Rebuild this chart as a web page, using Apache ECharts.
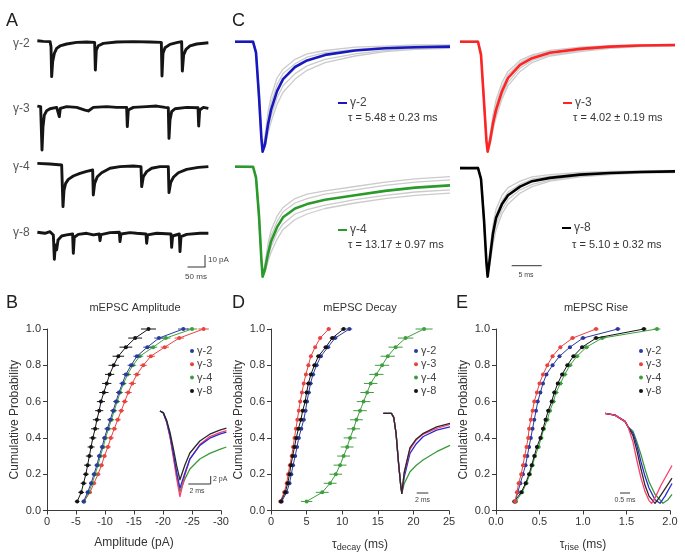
<!DOCTYPE html>
<html><head><meta charset="utf-8">
<script src="https://cdn.jsdelivr.net/npm/echarts@6/dist/echarts.min.js"></script>
<style>html,body{margin:0;padding:0;background:#fff}#c{width:685px;height:556px}</style>
</head><body><div id="c"></div>
<script>
const FONT = '"Liberation Sans", Arial, sans-serif';
const groups = ['γ-2', 'γ-3', 'γ-4', 'γ-8'];
const colC = {'γ-2': '#1818c0', 'γ-3': '#ff2424', 'γ-4': '#2a9a2a', 'γ-8': '#000000'};
const colP = {'γ-2': '#2a3a9c', 'γ-3': '#e8433f', 'γ-4': '#3e9e3e', 'γ-8': '#141414'};
const tauText = {'γ-2': 'τ = 5.48 ± 0.23 ms', 'γ-3': 'τ = 4.02 ± 0.19 ms', 'γ-4': 'τ = 13.17 ± 0.97 ms', 'γ-8': 'τ = 5.10 ± 0.32 ms'};

// ---------- Panel A : example traces [ms, pA] ----------
const traceA_g2 = [[1,1.7],[18,1.1],[38,0.9],[40.6,-3.4],[42.5,-29],[45.4,-16.2],[50.3,-9.1],[57,-4.8],[66.7,-2.8],[86,-1.1],[115,0.3],[144,0.6],[167.2,0.3],[169.2,-23.4],[172,-6.3],[177.9,-2.6],[192.4,-0.6],[231,0.6],[279.4,0.9],[327.7,0.6],[360.6,0.3],[362.5,-28.5],[365.4,-9.1],[371.2,-4.3],[385.7,-1.4],[405,0],[419.5,0.9],[421.5,-24.2],[425.3,-10.5],[432.1,-5.7],[443.7,-2.8],[463,-1.1],[497,0]];
const traceA_g3 = [[1,1.4],[10.6,0.9],[12.5,0],[14.5,-36.2],[17.4,-16.2],[21.3,-6.3],[28,-2.6],[37.7,-0.9],[57,0.3],[62.8,0],[64.7,-7.7],[67.6,-0.6],[86,0.9],[115,0.3],[139.2,-2],[148.8,-2.8],[163.3,0.3],[202,0.9],[231,0.3],[260,0.3],[261.9,-16.2],[264.8,-2],[279.4,0.3],[318,0.9],[347,1.4],[371.2,0.3],[380.8,0],[382.8,-26.2],[385.7,-10.5],[390.5,-3.4],[400.2,-0.9],[434,0.3],[467,0],[468.9,-15.7],[471.8,-2],[482.5,0.3],[497,-0.6]];
const traceA_g4 = [[1,1.4],[37.7,0.9],[71.5,0],[73.4,-1.4],[75.4,-35.6],[78.3,-21.4],[83.1,-15.7],[90.8,-12.3],[105.3,-9.4],[124.6,-7.1],[144,-5.4],[161.4,-4.3],[163.3,-25.6],[167.2,-15.7],[174.9,-10],[187.5,-6.6],[211.7,-2.8],[240.7,-1.4],[279.4,-0.9],[301.6,-1.4],[303.6,-18.5],[308.4,-10],[318,-5.7],[332.5,-2.8],[356.7,-1.4],[380.8,-1.4],[382.8,-23.6],[387.6,-15.1],[395.4,-10.5],[409.9,-6.6],[434,-3.7],[467.9,-2],[497,-1.4]];
const traceA_g8 = [[1,0.9],[23,0],[37.7,1.4],[47.4,-1.4],[50.3,-22.2],[53.2,-10],[57,-14.2],[61,-5.7],[71.5,-2.3],[86,-1.4],[103.3,-0.6],[105.3,-17.1],[108.2,-3.4],[119.8,-0.9],[144,0],[163.3,-1.4],[180.7,-0.6],[182.7,-6.3],[185.6,-1.1],[211.7,0.6],[238.7,0.9],[240.7,-7.1],[243.6,-0.6],[269.7,0.6],[289,0],[316.1,-0.6],[318,-8.5],[320.9,-1.4],[347,0],[388.6,-0.6],[390.5,-12],[393.4,-2.3],[412.7,-0.6],[414.7,-15.7],[417.6,-2.8],[434,-0.9],[472.7,0],[497,0]];

// ---------- Panel C : averaged normalised mEPSCs ----------
const tC = [0,3,3.5,4,4.4,4.6,5,5.5,6,7,8,10,12,15,20,25,30,35.8];
const meanC_g2 = [0,0,-0.1,-0.5,-0.88,-1.0,-0.93,-0.75,-0.62,-0.45,-0.34,-0.23,-0.17,-0.12,-0.08,-0.06,-0.05,-0.045];
const meanC_g3 = [0,0,-0.12,-0.55,-0.9,-1.0,-0.9,-0.74,-0.62,-0.45,-0.33,-0.21,-0.15,-0.1,-0.065,-0.045,-0.035,-0.03];
const meanC_g4 = [0,0,-0.1,-0.45,-0.85,-1.0,-0.93,-0.79,-0.68,-0.55,-0.46,-0.38,-0.34,-0.3,-0.26,-0.22,-0.19,-0.17];
const meanC_g8 = [0,0,-0.1,-0.48,-0.87,-1.0,-0.82,-0.6,-0.46,-0.33,-0.25,-0.17,-0.12,-0.09,-0.06,-0.045,-0.035,-0.03];
const greyC_g2 = [
 [0,0.01,-0.12,-0.58,-0.93,-0.98,-0.85,-0.64,-0.5,-0.33,-0.25,-0.16,-0.11,-0.08,-0.05,-0.04,-0.03,-0.03],
 [0,-0.01,-0.08,-0.44,-0.84,-0.99,-0.96,-0.83,-0.73,-0.57,-0.46,-0.34,-0.26,-0.19,-0.13,-0.09,-0.07,-0.06],
 [0.01,0,-0.11,-0.52,-0.9,-1.0,-0.9,-0.7,-0.56,-0.39,-0.29,-0.2,-0.14,-0.1,-0.07,-0.05,-0.04,-0.035],
 [0,0.01,-0.09,-0.47,-0.86,-1.0,-0.95,-0.79,-0.68,-0.51,-0.4,-0.29,-0.22,-0.16,-0.11,-0.08,-0.06,-0.05]];
const greyC_g3 = [
 [0,0,-0.14,-0.6,-0.93,-0.98,-0.85,-0.66,-0.53,-0.37,-0.27,-0.17,-0.12,-0.08,-0.05,-0.035,-0.03,-0.025],
 [0,0.01,-0.1,-0.5,-0.86,-1.0,-0.94,-0.8,-0.69,-0.52,-0.4,-0.27,-0.19,-0.13,-0.09,-0.06,-0.045,-0.04],
 [0.01,0,-0.12,-0.56,-0.9,-0.99,-0.88,-0.7,-0.57,-0.41,-0.3,-0.19,-0.13,-0.09,-0.06,-0.04,-0.03,-0.03],
 [0,0,-0.11,-0.53,-0.88,-1.0,-0.92,-0.77,-0.66,-0.49,-0.37,-0.24,-0.17,-0.12,-0.08,-0.055,-0.04,-0.035]];
const greyC_g4 = [
 [0,0,-0.12,-0.5,-0.88,-0.99,-0.88,-0.7,-0.58,-0.45,-0.37,-0.29,-0.25,-0.22,-0.18,-0.14,-0.11,-0.09],
 [0,-0.01,-0.08,-0.4,-0.82,-1.0,-0.96,-0.86,-0.78,-0.66,-0.57,-0.48,-0.43,-0.38,-0.33,-0.29,-0.26,-0.24],
 [0.01,0,-0.11,-0.47,-0.86,-1.0,-0.9,-0.74,-0.63,-0.5,-0.41,-0.33,-0.29,-0.25,-0.21,-0.17,-0.14,-0.12],
 [0,0,-0.09,-0.43,-0.84,-1.0,-0.95,-0.83,-0.73,-0.6,-0.52,-0.43,-0.39,-0.35,-0.3,-0.26,-0.23,-0.21]];
const greyC_g8 = [
 [0,0,-0.12,-0.55,-0.9,-0.97,-0.75,-0.52,-0.38,-0.25,-0.18,-0.12,-0.08,-0.06,-0.04,-0.03,-0.025,-0.02],
 [0,0.01,-0.08,-0.42,-0.84,-1.0,-0.88,-0.7,-0.57,-0.42,-0.33,-0.23,-0.17,-0.12,-0.08,-0.06,-0.045,-0.04],
 [0.01,0,-0.11,-0.5,-0.88,-0.99,-0.8,-0.57,-0.43,-0.3,-0.22,-0.15,-0.1,-0.075,-0.05,-0.04,-0.03,-0.025],
 [0,0,-0.09,-0.45,-0.86,-1.0,-0.85,-0.65,-0.52,-0.38,-0.29,-0.2,-0.15,-0.11,-0.07,-0.05,-0.04,-0.035]];

// ---------- Cumulative probability panels ----------
const cumProb = [0.05,0.10,0.15,0.20,0.25,0.30,0.35,0.40,0.45,0.50,0.55,0.60,0.65,0.70,0.75,0.80,0.85,0.90,0.95,1.00];
// B: amplitude (pA)
const ampB_g2 = [-6.3,-7.0,-7.6,-8.1,-8.6,-9.0,-9.5,-9.9,-10.4,-10.9,-11.4,-11.9,-12.4,-13.0,-13.6,-14.5,-15.5,-17.3,-19.3,-23.5];
const ampB_g3 = [-6.4,-7.4,-8.1,-8.8,-9.4,-9.9,-10.5,-11.0,-11.6,-12.2,-12.8,-13.4,-14.0,-14.7,-15.5,-16.6,-17.9,-20.3,-22.8,-27.0];
const ampB_g4 = [-6.4,-7.2,-7.8,-8.3,-8.8,-9.2,-9.7,-10.1,-10.6,-11.1,-11.6,-12.1,-12.6,-13.2,-13.9,-14.8,-16.0,-18.3,-20.5,-25.0];
const ampB_g8 = [-5.2,-5.9,-6.3,-6.7,-7.0,-7.3,-7.6,-7.9,-8.3,-8.6,-9.0,-9.3,-9.8,-10.3,-10.8,-11.5,-12.3,-13.6,-15.2,-17.5];
const errB_g2 = [0.3,0.3,0.3,0.4,0.4,0.4,0.4,0.4,0.5,0.5,0.5,0.5,0.5,0.5,0.6,0.6,0.6,0.7,0.8,0.9];
const errB_g3 = [0.3,0.3,0.4,0.4,0.4,0.4,0.5,0.5,0.5,0.5,0.5,0.5,0.6,0.6,0.6,0.6,0.7,0.7,0.8,0.9];
const errB_g4 = [0.3,0.3,0.3,0.4,0.4,0.4,0.4,0.4,0.5,0.5,0.5,0.5,0.5,0.5,0.6,0.6,0.6,0.7,0.8,0.9];
const errB_g8 = [0.4,0.5,0.5,0.5,0.6,0.6,0.6,0.6,0.7,0.7,0.7,0.7,0.8,0.8,0.8,0.9,1.0,1.1,1.2,1.3];
// D: decay tau (ms)
const decD_g2 = [1.5,2.2,2.6,2.85,3.1,3.4,3.65,3.9,4.25,4.6,4.85,5.05,5.3,5.55,5.9,6.4,7.0,8.0,9.0,11.0];
const decD_g3 = [1.3,1.85,2.2,2.4,2.65,2.9,3.1,3.3,3.5,3.7,3.9,4.1,4.35,4.6,4.9,5.25,5.6,6.2,6.9,8.1];
const decD_g4 = [5.0,7.2,8.3,9.1,9.7,10.2,10.7,11.1,11.6,12.0,12.5,13.0,13.5,14.0,14.8,15.6,16.4,17.5,18.9,21.5];
const decD_g8 = [1.4,2.0,2.35,2.6,2.8,3.05,3.3,3.55,3.85,4.2,4.45,4.8,5.0,5.25,5.6,6.1,6.65,7.7,8.6,10.2];
const errD_g2 = [0.2,0.2,0.2,0.2,0.2,0.25,0.25,0.25,0.25,0.25,0.25,0.25,0.3,0.3,0.3,0.3,0.3,0.35,0.35,0.4];
const errD_g3 = [0.15,0.15,0.15,0.15,0.15,0.2,0.2,0.2,0.2,0.2,0.2,0.2,0.2,0.2,0.25,0.25,0.25,0.25,0.3,0.3];
const errD_g4 = [0.8,0.9,0.9,0.9,0.9,0.9,0.9,0.9,0.9,0.9,0.95,0.95,0.95,0.95,1.0,1.0,1.0,1.0,1.1,1.2];
const errD_g8 = [0.2,0.2,0.2,0.2,0.2,0.25,0.25,0.25,0.25,0.25,0.25,0.25,0.3,0.3,0.3,0.3,0.3,0.35,0.35,0.4];
// E: rise time (ms)
const riseE_g2 = [0.22,0.25,0.28,0.31,0.34,0.36,0.38,0.40,0.42,0.44,0.46,0.48,0.51,0.54,0.58,0.65,0.73,0.85,1.0,1.40];
const riseE_g3 = [0.22,0.24,0.26,0.29,0.31,0.33,0.35,0.37,0.38,0.40,0.42,0.44,0.47,0.50,0.54,0.59,0.65,0.74,0.88,1.15];
const riseE_g4 = [0.23,0.30,0.35,0.39,0.42,0.45,0.49,0.52,0.55,0.59,0.62,0.66,0.69,0.74,0.79,0.85,0.93,1.04,1.22,1.85];
const riseE_g8 = [0.21,0.29,0.34,0.38,0.41,0.44,0.47,0.51,0.54,0.57,0.60,0.64,0.67,0.71,0.76,0.82,0.89,0.99,1.15,1.70];
const errE_g2 = [0.01,0.01,0.01,0.01,0.01,0.01,0.01,0.01,0.01,0.01,0.01,0.015,0.015,0.015,0.015,0.02,0.02,0.02,0.03,0.03];
const errE_g3 = [0.01,0.01,0.01,0.01,0.01,0.01,0.01,0.01,0.01,0.01,0.01,0.015,0.015,0.015,0.015,0.02,0.02,0.02,0.03,0.03];
const errE_g4 = [0.02,0.02,0.02,0.02,0.02,0.02,0.02,0.025,0.025,0.025,0.025,0.025,0.03,0.03,0.03,0.03,0.03,0.03,0.04,0.04];
const errE_g8 = [0.01,0.015,0.015,0.015,0.015,0.015,0.015,0.015,0.02,0.02,0.02,0.02,0.02,0.02,0.02,0.02,0.025,0.025,0.03,0.03];

// ---------- Insets ----------
const insetB_g2 = [[0,0],[0.4,-0.5],[0.8,-2.6],[1.2,-6.0],[1.6,-10.5],[2.0,-15.3],[2.4,-19.3],[3.0,-15.5],[3.6,-12.0],[4.8,-8.6],[6.0,-6.8],[7.2,-5.8],[8.0,-5.3]];
const insetB_g3 = [[0,0],[0.4,-0.5],[0.8,-2.8],[1.2,-6.5],[1.6,-11.5],[2.0,-16.8],[2.4,-21.4],[3.0,-16.0],[3.6,-12.0],[4.8,-8.4],[6.0,-6.4],[7.2,-5.4],[8.0,-4.9]];
const insetB_g4 = [[0,0],[0.4,-0.5],[0.8,-2.7],[1.2,-6.2],[1.6,-11.0],[2.0,-16.0],[2.4,-20.2],[3.0,-17.0],[3.6,-14.5],[4.8,-12.0],[6.0,-10.6],[7.2,-9.6],[8.0,-9.0]];
const insetB_g8 = [[0,0],[0.4,-0.4],[0.8,-2.3],[1.2,-5.3],[1.6,-9.3],[2.0,-13.6],[2.4,-17.2],[3.0,-13.5],[3.6,-10.5],[4.8,-7.5],[6.0,-5.8],[7.2,-4.8],[8.0,-4.3]];
const insetD_g2 = [[0,0],[1.4,0],[1.8,-0.05],[2.2,-0.25],[2.6,-0.6],[3.0,-0.9],[3.2,-1.0],[3.6,-0.8],[4.6,-0.5],[5.7,-0.38],[6.9,-0.29],[9.2,-0.21],[11.5,-0.17]];
const insetD_g3 = [[0,0],[1.4,0],[1.8,-0.05],[2.2,-0.25],[2.6,-0.6],[3.0,-0.9],[3.2,-1.0],[3.6,-0.75],[4.6,-0.45],[5.7,-0.33],[6.9,-0.26],[9.2,-0.19],[11.5,-0.14]];
const insetD_g4 = [[0,0],[1.4,0],[1.8,-0.05],[2.2,-0.25],[2.6,-0.6],[3.0,-0.9],[3.2,-1.0],[3.6,-0.88],[4.6,-0.73],[5.7,-0.65],[6.9,-0.58],[9.2,-0.48],[11.5,-0.40]];
const insetD_g8 = [[0,0],[1.4,0],[1.8,-0.05],[2.2,-0.25],[2.6,-0.6],[3.0,-0.9],[3.2,-1.0],[3.6,-0.74],[4.6,-0.43],[5.7,-0.32],[6.9,-0.25],[9.2,-0.17],[11.5,-0.125]];
const insetE_g2 = [[0,0],[0.5,-0.02],[1.0,-0.09],[1.15,-0.15],[1.4,-0.22],[1.6,-0.36],[1.8,-0.54],[2.0,-0.7],[2.2,-0.83],[2.5,-0.96],[2.75,-1.0],[3.0,-0.92],[3.35,-0.78]];
const insetE_g3 = [[0,0],[0.5,-0.02],[1.0,-0.09],[1.15,-0.15],[1.4,-0.32],[1.6,-0.53],[1.8,-0.72],[2.0,-0.87],[2.2,-0.97],[2.33,-1.0],[2.5,-0.94],[2.8,-0.8],[3.35,-0.58]];
const insetE_g4 = [[0,0],[0.5,-0.02],[1.0,-0.09],[1.15,-0.15],[1.4,-0.2],[1.6,-0.32],[1.8,-0.46],[2.0,-0.62],[2.2,-0.76],[2.5,-0.9],[2.9,-1.0],[3.15,-0.96],[3.35,-0.9]];
const insetE_g8 = [[0,0],[0.5,-0.02],[1.0,-0.09],[1.15,-0.15],[1.4,-0.25],[1.6,-0.42],[1.8,-0.62],[2.0,-0.8],[2.2,-0.92],[2.5,-1.0],[2.7,-0.94],[3.0,-0.84],[3.35,-0.72]];

// ---------- build chart ----------
const grids = [], xAxes = [], yAxes = [], series = [];
function hiddenGrid(left, top, width, height, xr, yr) {
  const i = grids.length;
  grids.push({left, top, width, height});
  xAxes.push({gridIndex: i, type: 'value', min: xr[0], max: xr[1], show: false});
  yAxes.push({gridIndex: i, type: 'value', min: yr[0], max: yr[1], show: false});
  return i;
}
function lineS(gi, data, color, width, z) {
  series.push({type: 'line', xAxisIndex: gi, yAxisIndex: gi, data, showSymbol: false, symbol: 'none',
    lineStyle: {color, width, join: 'round'}, z: z || 2, silent: true, clip: false, animation: false});
}
// Panel A
const traceA = [traceA_g2, traceA_g3, traceA_g4, traceA_g8];
const baseA = [42.7, 107.7, 165, 233.3];
traceA.forEach((tr, k) => {
  const gi = hiddenGrid(37, baseA[k] - 8 * 1.17, 172.4, 48 * 1.17, [0, 500], [-40, 8]);
  lineS(gi, tr, '#151515', 2.9);
});
// Panel C
const meanC = [meanC_g2, meanC_g3, meanC_g4, meanC_g8];
const greyC = [greyC_g2, greyC_g3, greyC_g4, greyC_g8];
const cPos = [[235, 30.7, 126.5], [460, 30.7, 126.5], [235, 155.7, 126.5], [460, 157.3, 124.7]];
groups.forEach((g, k) => {
  const gi = hiddenGrid(cPos[k][0], cPos[k][1], 215, cPos[k][2], [0, 35.8], [-1.05, 0.1]);
  greyC[k].forEach(arr => lineS(gi, tC.map((t, i) => [t, arr[i]]), '#cbcbcb', 1.3, 1));
  lineS(gi, tC.map((t, i) => [t, meanC[k][i]]), colC[g], 2.6, 3);
});
// cumulative panels
const axisBase = {
  axisLine: {show: true, onZero: false, lineStyle: {color: '#3a3a3a', width: 1}},
  axisTick: {show: true, length: 4, lineStyle: {color: '#3a3a3a'}},
  splitLine: {show: false},
  axisLabel: {color: '#333', fontSize: 11, fontFamily: FONT},
  nameTextStyle: {color: '#333', fontSize: 12, fontFamily: FONT}
};
function cumGrid(left, top, width, height, xcfg) {
  const i = grids.length;
  grids.push({left, top, width, height});
  xAxes.push(Object.assign({gridIndex: i, type: 'value', nameLocation: 'middle', nameGap: 26}, axisBase, xcfg,
    {axisLabel: Object.assign({}, axisBase.axisLabel, {margin: 6}, xcfg.axisLabel || {})}));
  yAxes.push(Object.assign({gridIndex: i, type: 'value', min: 0, max: 1, interval: 0.2, name: 'Cumulative Probability',
    nameLocation: 'middle', nameRotate: 90, nameGap: 26}, axisBase,
    {axisLabel: Object.assign({}, axisBase.axisLabel, {margin: 6, formatter: v => v.toFixed(1)})}));
  return i;
}
function cumSeries(gi, xs, errs, color, z) {
  series.push({type: 'custom', xAxisIndex: gi, yAxisIndex: gi, silent: true, z: z, animation: false,
    data: xs.map((x, i) => [x, cumProb[i], errs[i]]), encode: {x: 0, y: 1},
    renderItem(params, api) {
      const x = api.value(0), y = api.value(1), e = api.value(2);
      const a = api.coord([x - e, y]), b = api.coord([x + e, y]);
      return {type: 'line', shape: {x1: a[0], y1: a[1], x2: b[0], y2: b[1]}, style: {stroke: color, lineWidth: 1}};
    }});
  series.push({type: 'line', xAxisIndex: gi, yAxisIndex: gi, silent: true, z: z, animation: false,
    data: xs.map((x, i) => [x, cumProb[i]]), symbol: 'circle', symbolSize: 4, showSymbol: true,
    itemStyle: {color}, lineStyle: {color, width: 1}});
}
const gB = cumGrid(47, 329, 174, 181.5, {min: -30, max: 0, interval: 5, inverse: true, name: 'Amplitude (pA)'});
cumSeries(gB, ampB_g3, errB_g3, colP['γ-3'], 3);
cumSeries(gB, ampB_g4, errB_g4, colP['γ-4'], 4);
cumSeries(gB, ampB_g2, errB_g2, colP['γ-2'], 5);
cumSeries(gB, ampB_g8, errB_g8, colP['γ-8'], 6);
const gD = cumGrid(271, 329, 178, 181.5, {min: 0, max: 25, interval: 5,
  name: '{t|τ}{s|decay}{t| (ms)}',
  nameTextStyle: {color: '#333', fontSize: 12, fontFamily: FONT, rich: {t: {fontSize: 12, fontFamily: FONT, color: '#333'}, s: {fontSize: 9, fontFamily: FONT, color: '#333', padding: [7, 0, 0, 0]}}}});
cumSeries(gD, decD_g4, errD_g4, colP['γ-4'], 3);
cumSeries(gD, decD_g3, errD_g3, colP['γ-3'], 4);
cumSeries(gD, decD_g2, errD_g2, colP['γ-2'], 5);
cumSeries(gD, decD_g8, errD_g8, colP['γ-8'], 6);
const gE = cumGrid(496, 329, 174, 181.5, {min: 0, max: 2, interval: 0.5,
  axisLabel: {formatter: v => v.toFixed(1)},
  name: '{t|τ}{s|rise}{t| (ms)}',
  nameTextStyle: {color: '#333', fontSize: 12, fontFamily: FONT, rich: {t: {fontSize: 12, fontFamily: FONT, color: '#333'}, s: {fontSize: 9, fontFamily: FONT, color: '#333', padding: [7, 0, 0, 0]}}}});
cumSeries(gE, riseE_g4, errE_g4, colP['γ-4'], 3);
cumSeries(gE, riseE_g8, errE_g8, colP['γ-8'], 4);
cumSeries(gE, riseE_g2, errE_g2, colP['γ-2'], 5);
cumSeries(gE, riseE_g3, errE_g3, colP['γ-3'], 6);
// insets
const insetCol = {'γ-2': '#2b2bd0', 'γ-3': '#ff3c6e', 'γ-4': '#3a9a3a', 'γ-8': '#2a2a2a'};
const giB = hiddenGrid(160, 411 - 4, 66.4, 100, [0, 8.0], [-24, 1]);
[[insetB_g4, 'γ-4'], [insetB_g3, 'γ-3'], [insetB_g2, 'γ-2'], [insetB_g8, 'γ-8']].forEach(([d, g]) => lineS(giB, d, insetCol[g], 1.3, 7));
const giD = hiddenGrid(383.3, 413.3 - 4, 66.7, 88, [0, 11.5], [-1.05, 0.05]);
[[insetD_g4, 'γ-4'], [insetD_g2, 'γ-2'], [insetD_g3, 'γ-3'], [insetD_g8, 'γ-8']].forEach(([d, g]) => lineS(giD, d, insetCol[g], 1.3, 7));
const giE = hiddenGrid(605, 413.3 - 4.5, 67, 99, [0, 3.35], [-1.05, 0.05]);
[[insetE_g4, 'γ-4'], [insetE_g2, 'γ-2'], [insetE_g8, 'γ-8'], [insetE_g3, 'γ-3']].forEach(([d, g]) => lineS(giE, d, insetCol[g], 1.3, 7));

// ---------- annotations ----------
const G = [];
function txt(x, y, text, size, opts) {
  G.push({type: 'text', x, y, z: 100, style: Object.assign({text, fontSize: size, fontFamily: FONT, fill: '#333',
    textAlign: 'left', textVerticalAlign: 'middle'}, opts || {})});
}
function seg(x1, y1, x2, y2, color, w) {
  G.push({type: 'line', z: 100, shape: {x1, y1, x2, y2}, style: {stroke: color, lineWidth: w}});
}
// panel letters
txt(6, 21, 'A', 18, {fill: '#222'});
txt(232, 21, 'C', 18, {fill: '#222'});
txt(6, 303, 'B', 18, {fill: '#222'});
txt(232, 303, 'D', 18, {fill: '#222'});
txt(456, 303, 'E', 18, {fill: '#222'});
// A labels + scale bar
const aLabY = [44, 109, 167, 233];
groups.forEach((g, k) => txt(13, aLabY[k], g, 12, {fill: '#555'}));
seg(205, 255, 205, 267, '#333', 1);
seg(187.5, 267, 205.5, 267, '#333', 1);
txt(208, 260, '10 pA', 8, {fill: '#444'});
txt(196, 277, '50 ms', 8, {fill: '#444', textAlign: 'center'});
// C legends
const cLeg = [[338, 103, 118], [563, 103, 118], [338, 230, 245], [562, 228, 245]];
groups.forEach((g, k) => {
  const [x, y, y2] = cLeg[k];
  seg(x, y, x + 9, y, colC[g], 2);
  txt(x + 12, y, g, 12, {fill: '#444'});
  txt(x + 10, y2, tauText[g], 11, {fill: '#333'});
});
seg(511.7, 265.7, 541.7, 265.7, '#333', 1);
txt(526, 275, '5 ms', 7, {fill: '#444', textAlign: 'center'});
// titles
txt(135, 308, 'mEPSC Amplitude', 11, {textAlign: 'center'});
txt(360, 308, 'mEPSC Decay', 11, {textAlign: 'center'});
txt(596, 308, 'mEPSC Rise', 11, {textAlign: 'center'});
// cumulative legends
const legX = [192, 416, 641];
legX.forEach(x0 => {
  groups.forEach((g, k) => {
    const y = 351 + k * 13.3;
    G.push({type: 'circle', z: 100, shape: {cx: x0, cy: y, r: 2}, style: {fill: colP[g]}});
    txt(x0 + 5, y, g, 11, {fill: '#444'});
  });
});
// inset scale bars
seg(210.7, 476, 210.7, 484, '#333', 1);
seg(188.3, 484, 210.7, 484, '#333', 1);
txt(213, 479, '2 pA', 7, {fill: '#444'});
txt(197, 491, '2 ms', 7, {fill: '#444', textAlign: 'center'});
seg(416.7, 493, 428.3, 493, '#333', 1);
txt(422.5, 500, '2 ms', 7, {fill: '#444', textAlign: 'center'});
seg(620, 493, 630, 493, '#333', 1);
txt(625, 500, '0.5 ms', 7, {fill: '#444', textAlign: 'center'});

const chart = echarts.init(document.getElementById('c'), null, {renderer: 'canvas', width: 685, height: 556});
chart.setOption({
  animation: false,
  backgroundColor: '#ffffff',
  textStyle: {fontFamily: FONT},
  grid: grids, xAxis: xAxes, yAxis: yAxes, series, graphic: G
});
</script></body></html>
